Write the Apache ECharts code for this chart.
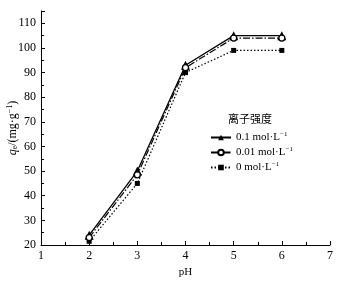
<!DOCTYPE html>
<html>
<head>
<meta charset="utf-8">
<script src="https://cdn.jsdelivr.net/npm/echarts@6/dist/echarts.min.js"></script>
<style>
  html, body { margin: 0; padding: 0; background: #fff; }
  #chart { width: 339px; height: 281px; }
</style>
</head>
<body>
<div id="chart"></div>
<script>
const phValues = [2, 3, 4, 5, 6];
const strong = [24, 50, 93, 105, 105];
const medium = [23, 48.5, 92, 104, 104];
const none = [21.5, 45, 90, 99, 99];
const seriesNames = ["0.1 mol·L{sup|−1}", "0.01 mol·L{sup|−1}", "0 mol·L{sup|−1}"];

const pair = (ys) => phValues.map((x, i) => [x, ys[i]]);
const FONT = "'Liberation Serif', 'Noto Sans CJK SC', serif";

const chart = echarts.init(document.getElementById("chart"));
chart.setOption({
  animation: false,
  backgroundColor: "#fff",
  textStyle: { fontFamily: FONT, color: "#000" },
  title: {
    text: "离子强度",
    left: 228,
    top: 113,
    padding: 0,
    textStyle: { fontSize: 11, fontWeight: "normal", color: "#000", fontFamily: "'Noto Sans CJK SC', sans-serif" },
  },
  legend: {
    orient: "vertical",
    left: 210,
    top: 131,
    padding: 0,
    itemGap: 3,
    itemWidth: 20,
    itemHeight: 7,
    data: seriesNames,
    formatter: (n) => n,
    textStyle: {
      fontSize: 11,
      color: "#000",
      fontFamily: FONT,
      rich: { sup: { fontSize: 7, verticalAlign: "top", padding: [0, 0, 6, 0], fontFamily: FONT } },
    },
  },
  grid: { left: 41, right: 9, top: 11, bottom: 36, outerBoundsMode: "none", containLabel: false },
  xAxis: {
    type: "value",
    min: 1,
    max: 7,
    interval: 1,
    name: "pH",
    nameLocation: "middle",
    nameGap: 22,
    nameMoveOverlap: false,
    nameTextStyle: { fontSize: 11, color: "#000", fontFamily: FONT },
    axisLine: { lineStyle: { color: "#000", width: 1 } },
    axisTick: { inside: true, length: 4, lineStyle: { color: "#000" } },
    minorTick: { show: true, splitNumber: 2, length: 3, lineStyle: { color: "#000" } },
    axisLabel: { fontSize: 12, color: "#000", margin: 5, fontFamily: FONT },
    splitLine: { show: false },
  },
  yAxis: {
    type: "value",
    min: 20,
    max: 115,
    interval: 10,
    name: "{i|q}{sub|e}/(mg·g{sup|−1})",
    nameLocation: "middle",
    nameGap: 22,
    nameMoveOverlap: false,
    nameTextStyle: {
      fontSize: 12,
      color: "#000",
      fontFamily: FONT,
      rich: {
        i: { fontStyle: "italic", fontSize: 12, fontFamily: FONT },
        sub: { fontSize: 8, verticalAlign: "bottom", padding: [5, 0, 0, 0], fontFamily: FONT },
        sup: { fontSize: 8, verticalAlign: "top", padding: [0, 0, 5, 0], fontFamily: FONT },
      },
    },
    axisLine: { show: true, lineStyle: { color: "#000", width: 1 } },
    axisTick: { inside: true, length: 4, lineStyle: { color: "#000" } },
    minorTick: { show: true, splitNumber: 2, length: 3, lineStyle: { color: "#000" } },
    axisLabel: { fontSize: 12, color: "#000", margin: 5, showMaxLabel: false, fontFamily: FONT },
    splitLine: { show: false },
  },
  series: [
    {
      name: seriesNames[0],
      type: "line",
      data: pair(strong),
      symbol: "triangle",
      symbolSize: 9,
      itemStyle: { color: "#000" },
      lineStyle: { color: "#000", width: 1.3, type: "solid" },
      z: 3,
    },
    {
      name: seriesNames[1],
      type: "line",
      data: pair(medium),
      symbol: "circle",
      symbolSize: 6,
      itemStyle: { color: "#fff", borderColor: "#000", borderWidth: 1.3 },
      lineStyle: { color: "#000", width: 1.2, type: [7, 2, 1.5, 2] },
      z: 4,
    },
    {
      name: seriesNames[2],
      type: "line",
      data: pair(none),
      symbol: "rect",
      symbolSize: 5,
      itemStyle: { color: "#000" },
      lineStyle: { color: "#000", width: 1.2, type: [1.5, 2] },
      z: 2,
    },
  ],
});
</script>
</body>
</html>
